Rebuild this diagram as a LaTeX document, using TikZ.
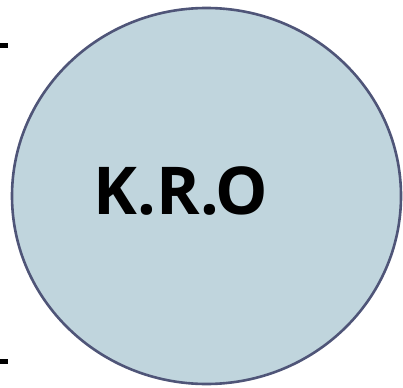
\documentclass[tikz,border=0pt]{standalone}
\usepackage{fontspec}
\setmainfont{Open Sans}
\usetikzlibrary{shapes.geometric}
\definecolor{circfill}{HTML}{C0D5DD}
\definecolor{circline}{HTML}{4F5578}
\tikzset{
  bubble/.style={ellipse, draw=circline, fill=circfill, line width=2.6pt, inner sep=0pt,
    minimum width=389pt, minimum height=376pt},
  label/.style={font=\fontsize{66}{66}\selectfont\bfseries, text=black, inner sep=0pt},
  tick/.style={fill=black}
}
\begin{document}
\begin{tikzpicture}[x=1pt,y=-1pt]
\useasboundingbox (0,0) rectangle (403,387);
\node[bubble] (c) at (206.5,196) {};
\node[label] (t) at (181,191.5) {K.R.O};
\fill[tick] (0,43) rectangle (8,48);
\fill[tick] (0,359) rectangle (8,364);
\end{tikzpicture}
\end{document}
